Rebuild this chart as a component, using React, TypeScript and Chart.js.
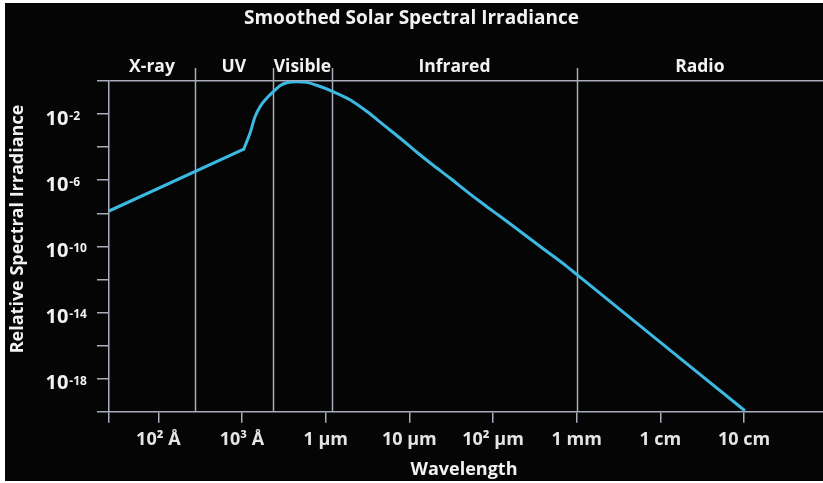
import React, { useEffect, useRef } from "react";
import { Chart, registerables } from "chart.js";

Chart.register(...registerables);

const TITLE = "Smoothed Solar Spectral Irradiance";
const X_TITLE = "Wavelength";
const Y_TITLE = "Relative Spectral Irradiance";

// X-ray / UV power-law part (wavelength in metres, relative irradiance)
const xrayWavelengths = [2.57e-9, 1.05e-7];
const xrayIrradiance = [1.37e-8, 7.7e-5];

// smoothed thermal part, from the UV kink to 10 cm
const thermalWavelengths = [
  1.05e-7, 1.245e-7, 1.43e-7, 1.64e-7, 1.97e-7, 2.37e-7, 2.84e-7, 3.42e-7,
  4.5e-7, 5.93e-7, 7.8e-7, 1.2e-6, 1.95e-6, 3.09e-6, 4.88e-6, 7.72e-6,
  1.22e-5, 1.93e-5, 3.06e-5, 4.84e-5, 7.65e-5, 1.21e-4, 1.92e-4, 3.03e-4,
  4.8e-4, 7.6e-4, 1e-3, 1e-1,
];
const thermalIrradiance = [
  7.7e-5, 6.9e-4, 6.9e-3, 2.8e-2, 9.0e-2, 0.225, 0.52, 0.79,
  0.91, 0.83, 0.55, 0.238, 0.074, 0.0147, 2.28e-3, 3.57e-4,
  5.08e-5, 7.98e-6, 1.36e-6, 2.13e-7, 3.63e-8, 6.56e-9, 1.17e-9, 2.02e-10,
  3.59e-11, 6.21e-12, 2.0e-12, 1.26e-20,
];

const X_MIN = 2.57e-9;
const X_MAX = 0.88;
const Y_MIN = 1e-20;
const Y_MAX = 1;

const xTickValues = [1e-8, 1e-7, 1e-6, 1e-5, 1e-4, 1e-3, 1e-2, 1e-1];
const xTickLabels = ["10² Å", "10³ Å", "1 μm", "10 μm", "10² μm", "1 mm", "1 cm", "10 cm"];

const yTickExponents = [0, -2, -4, -6, -8, -10, -12, -14, -16, -18, -20];
const yLabelExponents = [-2, -6, -10, -14, -18];

const regionBounds = [2.74e-8, 2.32e-7, 1.2e-6, 1e-3];
const regionNames = ["X-ray", "UV", "Visible", "Infrared", "Radio"];

const GRAY = "#a9adbc";
const TEXT = "#f2f2f2";
const LINE = "#3cb9e2";
const FONT = "'Open Sans', 'DejaVu Sans', sans-serif";

const decorPlugin = {
  id: "decor",
  beforeDraw(chart: any) {
    const { ctx, width, height } = chart;
    ctx.save();
    ctx.fillStyle = "#050505";
    ctx.fillRect(0, 0, width, height);
    ctx.restore();
  },
  beforeDatasetsDraw(chart: any) {
    const { ctx, chartArea } = chart;
    const xs = chart.scales.x;
    ctx.save();
    ctx.strokeStyle = GRAY;
    ctx.lineWidth = 1.5;
    regionBounds.forEach((b) => {
      const px = Math.round(xs.getPixelForValue(b)) + 0.5;
      ctx.beginPath();
      ctx.moveTo(px, chartArea.top - 13);
      ctx.lineTo(px, chartArea.bottom);
      ctx.stroke();
    });
    ctx.restore();
  },
  afterDraw(chart: any) {
    const { ctx, chartArea, width } = chart;
    const xs = chart.scales.x;
    const ys = chart.scales.y;
    ctx.save();
    ctx.fillStyle = TEXT;

    // title
    ctx.font = `bold 19px ${FONT}`;
    ctx.textAlign = "center";
    ctx.textBaseline = "alphabetic";
    ctx.fillText(TITLE, width / 2 - 2.5, 20.5);

    // region labels
    const edges = [chartArea.left, ...regionBounds.map((b) => xs.getPixelForValue(b)), chartArea.right];
    ctx.font = `bold 17.5px ${FONT}`;
    regionNames.forEach((name, i) => {
      const cx = (edges[i] + edges[i + 1]) / 2;
      ctx.fillText(name, cx, 69);
    });

    // y tick labels with superscripts
    ctx.textAlign = "left";
    yLabelExponents.forEach((e) => {
      const py = ys.getPixelForValue(Math.pow(10, e));
      ctx.font = `bold 20px ${FONT}`;
      ctx.fillText("10", 40.5, py + 10.5);
      const w = ctx.measureText("10").width;
      ctx.font = `bold 12px ${FONT}`;
      ctx.fillText("-" + String(-e), 40.5 + w + 1, py + 6);
    });

    // y title
    ctx.save();
    ctx.translate(13, 226);
    ctx.rotate(-Math.PI / 2);
    ctx.font = `bold 18px ${FONT}`;
    ctx.textAlign = "center";
    ctx.textBaseline = "middle";
    ctx.fillText(Y_TITLE, 0, 0);
    ctx.restore();

    // x title
    ctx.font = `bold 18px ${FONT}`;
    ctx.textAlign = "center";
    ctx.textBaseline = "alphabetic";
    ctx.fillText(X_TITLE, (chartArea.left + chartArea.right) / 2 - 2, 472);

    ctx.restore();
  },
};

export default function App() {
  const canvasRef = useRef<HTMLCanvasElement | null>(null);

  useEffect(() => {
    document.body.style.margin = "0";
    const canvas = canvasRef.current;
    if (!canvas) return;
    const chart = new Chart(canvas, {
      type: "line",
      data: {
        datasets: [
          {
            data: xrayWavelengths.map((w, i) => ({ x: w, y: xrayIrradiance[i] })),
            borderColor: LINE,
            borderWidth: 3,
            pointRadius: 0,
            tension: 0,
            fill: false,
            borderCapStyle: "round",
          },
          {
            data: thermalWavelengths.map((w, i) => ({ x: w, y: thermalIrradiance[i] })),
            borderColor: LINE,
            borderWidth: 3,
            pointRadius: 0,
            cubicInterpolationMode: "monotone",
            fill: false,
            borderCapStyle: "round",
          },
        ],
      },
      options: {
        animation: false,
        responsive: false,
        maintainAspectRatio: false,
        devicePixelRatio: 1,
        layout: { padding: { top: 78, left: 0, right: 0, bottom: 0 } },
        plugins: {
          legend: { display: false },
          tooltip: { enabled: false },
          title: { display: false },
        },
        scales: {
          x: {
            type: "logarithmic",
            min: X_MIN,
            max: X_MAX,
            afterBuildTicks: (s: any) => {
              s.ticks = [X_MIN, ...xTickValues].map((v) => ({ value: v }));
            },
            afterFit: (s: any) => {
              s.height = 69.3;
            },
            ticks: {
              autoSkip: false,
              maxRotation: 0,
              color: "#e4e4e4",
              padding: 6,
              font: { family: FONT, size: 18, weight: "bold" },
              callback: (v: any) => {
                const i = xTickValues.indexOf(v);
                return i >= 0 ? xTickLabels[i] : "";
              },
            },
            grid: {
              drawOnChartArea: false,
              drawTicks: true,
              tickLength: 11,
              color: GRAY,
              lineWidth: 1.5,
            },
            border: { color: GRAY, width: 1.5 },
          },
          y: {
            type: "logarithmic",
            min: Y_MIN,
            max: Y_MAX,
            afterBuildTicks: (s: any) => {
              s.ticks = yTickExponents.map((e) => ({ value: Math.pow(10, e) }));
            },
            afterFit: (s: any) => {
              s.width = 104;
            },
            ticks: { display: false },
            grid: {
              color: (ctx: any) => (ctx.tick && ctx.tick.value === 1 ? GRAY : "rgba(0,0,0,0)"),
              tickColor: GRAY,
              drawTicks: true,
              tickLength: 12,
              lineWidth: 1.5,
            },
            border: { color: GRAY, width: 1.5 },
          },
        },
      },
      plugins: [decorPlugin],
    } as any);
    return () => chart.destroy();
  }, []);

  return (
    <div style={{ position: "relative", width: 823, height: 483, background: "#fff", overflow: "hidden" }}>
      <canvas
        ref={canvasRef}
        width={818}
        height={478}
        style={{ position: "absolute", left: 5, top: 3, width: 818, height: 478 }}
      />
    </div>
  );
}
